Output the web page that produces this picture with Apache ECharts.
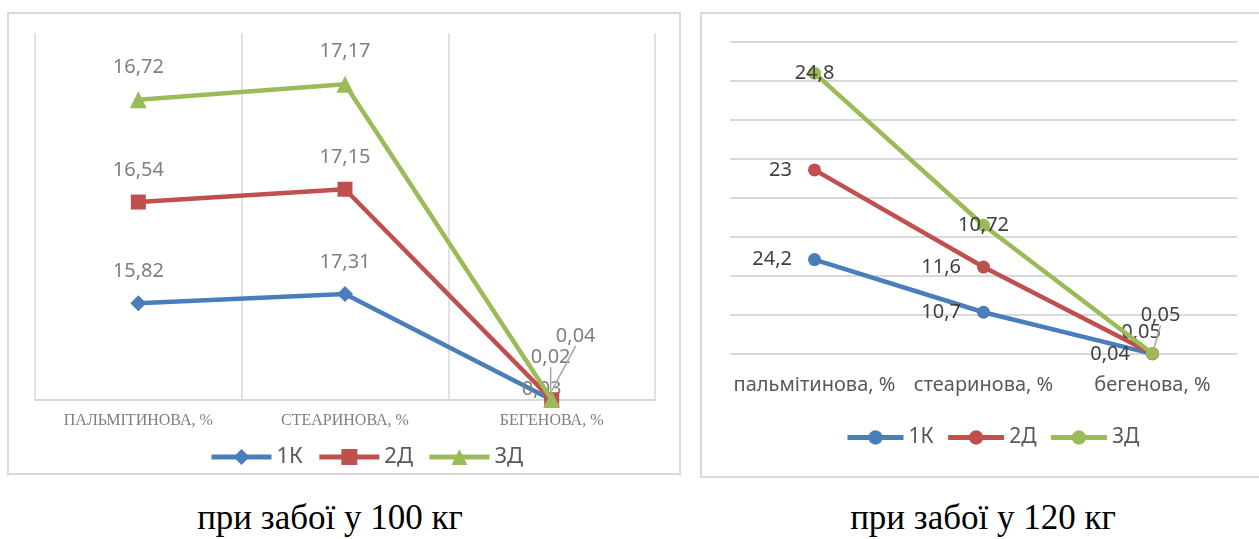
<!DOCTYPE html>
<html>
<head>
<meta charset="utf-8">
<script src="https://cdn.jsdelivr.net/npm/echarts@6/dist/echarts.min.js"></script>
<style>
html,body{margin:0;padding:0;background:#fff;width:1259px;height:539px;overflow:hidden;position:relative;}
.box{position:absolute;box-sizing:border-box;border:2px solid #d9d9d9;background:#fff;}
#c1{left:7px;top:12px;width:674px;height:463px;}
#c2{left:700px;top:12px;width:570px;height:466px;}
.cap{position:absolute;top:498px;font-family:"Liberation Serif","DejaVu Serif",serif;font-size:35px;line-height:40px;color:#000;white-space:nowrap;transform:translateX(-50%);}
</style>
</head>
<body>
<div id="c1" class="box"></div>
<div id="c2" class="box"></div>
<div class="cap" style="left:330px;">при забої у 100 кг</div>
<div class="cap" style="left:983px;">при забої у 120 кг</div>
<script>
// ---- data ----
const seriesNames = ['1К', '2Д', '3Д'];
const categoriesLeft = ['ПАЛЬМІТИНОВА, %', 'СТЕАРИНОВА, %', 'БЕГЕНОВА, %'];
const categoriesRight = ['пальмітинова, %', 'стеаринова, %', 'бегенова, %'];
const left1K = [15.82, 17.31, 0.03];
const left2D = [16.54, 17.15, 0.02];
const left3D = [16.72, 17.17, 0.04];
const right1K = [24.2, 10.7, 0.04];
const right2D = [23, 11.6, 0.05];
const right3D = [24.8, 10.72, 0.05];

const colors = ['#4a7ebb', '#c0504d', '#9bbb59'];
const fmt = p => String(p.value).replace('.', ',');
const sans = '"Noto Sans", "Open Sans", sans-serif';

// last point may carry a leader line
function withLeader(data, leader) {
  return data.map((v, k) => (k === data.length - 1 && leader)
    ? {value: v, labelLine: {show: true, lineStyle: {color: '#a6a6a6', width: 1.5}}}
    : v);
}

// ---- left chart ----
const ch1 = echarts.init(document.getElementById('c1'));
const leftShifts = [[-10, 21], [-1, -11], [24, -31]];
function leftSeries(i, data, symbol, size, leader) {
  return {
    name: seriesNames[i], type: 'line', stack: 'total', data: withLeader(data, leader),
    symbol: symbol, symbolSize: size,
    lineStyle: {width: 4.5, color: colors[i]},
    itemStyle: {color: colors[i]},
    label: {show: true, position: 'top', distance: 14, formatter: fmt,
            color: '#7f7f7f', fontSize: 20, fontFamily: sans},
    labelLine: {show: false},
    labelLayout: function (params) {
      if (params.dataIndex === 2) {
        return {dx: leftShifts[i][0], dy: leftShifts[i][1]};
      }
      return {};
    },
    z: 2 + i
  };
}
ch1.setOption({
  animation: false,
  color: colors,
  grid: {left: 26, right: 24, top: 19, bottom: 73},
  legend: {
    data: seriesNames, bottom: 0, left: 195,
    itemWidth: 60, itemHeight: 20, itemGap: 14,
    lineStyle: {width: 5},
    textStyle: {color: '#595959', fontSize: 22, fontFamily: sans}
  },
  xAxis: {
    type: 'category', data: categoriesLeft, boundaryGap: true,
    axisLine: {show: true, lineStyle: {color: '#d9d9d9', width: 2}},
    axisTick: {show: false},
    splitLine: {show: true, lineStyle: {color: '#d9d9d9', width: 1.5}},
    axisLabel: {color: '#7f7f7f', fontSize: 16, margin: 13, interval: 0,
                fontFamily: '"Liberation Serif", serif'}
  },
  yAxis: {
    type: 'value', min: 0, max: 60, interval: 10,
    axisLine: {show: false}, axisTick: {show: false},
    axisLabel: {show: false}, splitLine: {show: false}
  },
  series: [
    leftSeries(0, left1K, 'diamond', 16, false),
    leftSeries(1, left2D, 'rect', 15, true),
    leftSeries(2, left3D, 'triangle', 17, true)
  ]
});

// ---- right chart ----
const ch2 = echarts.init(document.getElementById('c2'));
const rightShifts = [[0, 0], [31, -21], [8, -38]];
function rightSeries(i, data, pos, leader) {
  return {
    name: seriesNames[i], type: 'line', stack: 'total', data: withLeader(data, leader),
    symbol: 'circle', symbolSize: 13,
    lineStyle: {width: 4.5, color: colors[i]},
    itemStyle: {color: colors[i]},
    label: {show: true, position: pos, distance: 16, formatter: fmt,
            color: '#404040', fontSize: 20, fontFamily: sans},
    labelLine: {show: false},
    labelLayout: function (params) {
      if (params.dataIndex === 2) {
        return {dx: rightShifts[i][0], dy: rightShifts[i][1]};
      }
      return {};
    },
    z: 2 + i
  };
}
ch2.setOption({
  animation: false,
  color: colors,
  grid: {left: 28, right: 31, top: 28, bottom: 122},
  legend: {
    data: seriesNames, top: 408, left: 138,
    itemWidth: 56, itemHeight: 18, itemGap: 12,
    lineStyle: {width: 5},
    textStyle: {color: '#595959', fontSize: 21, fontFamily: sans}
  },
  xAxis: {
    type: 'category', data: categoriesRight, boundaryGap: true,
    axisLine: {show: false}, axisTick: {show: false},
    splitLine: {show: false},
    axisLabel: {color: '#595959', fontSize: 20, margin: 21, interval: 0,
                hideOverlap: false, fontFamily: sans}
  },
  yAxis: {
    type: 'value', min: 0, max: 80, interval: 10,
    axisLine: {show: false}, axisTick: {show: false},
    axisLabel: {show: false},
    splitLine: {show: true, lineStyle: {color: '#d9d9d9', width: 2}}
  },
  series: [
    rightSeries(0, right1K, 'left', false),
    rightSeries(1, right2D, 'left', false),
    rightSeries(2, right3D, 'inside', true)
  ]
});
</script>
</body>
</html>
